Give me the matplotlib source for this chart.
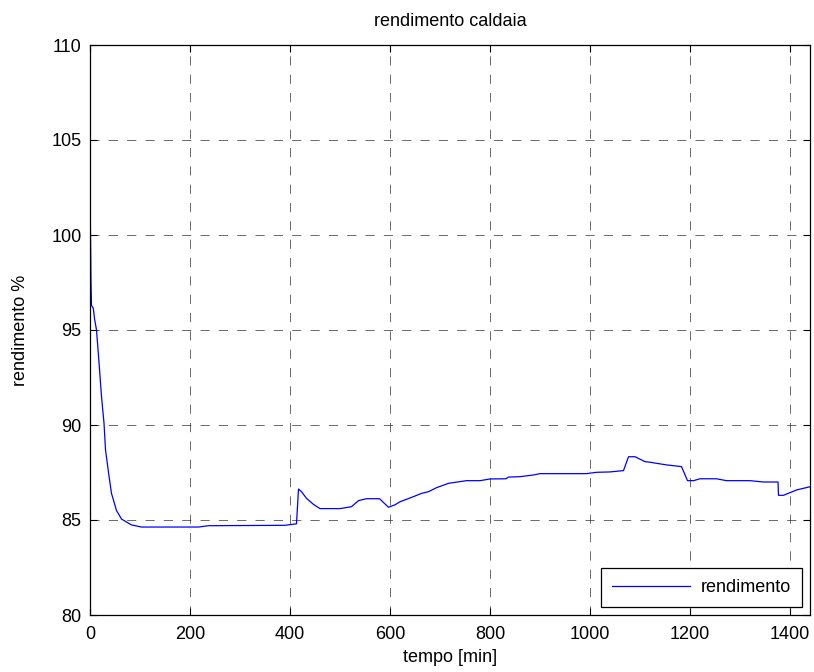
import matplotlib
matplotlib.use("Agg")
import matplotlib.pyplot as plt

t = [0, 0.3, 1, 2, 3, 5, 6.6, 9, 13, 18, 23, 28, 31, 37, 43, 53, 63, 83, 103,
     217, 237, 390, 413, 417, 423, 433, 447, 460, 500, 523, 537, 553, 579, 597,
     610, 620, 647, 663, 677, 693, 717, 753, 780, 800, 832, 837, 860, 887, 900,
     993, 1013, 1040, 1067, 1077, 1090, 1110, 1120, 1153, 1183, 1195, 1207, 1220,
     1253, 1273, 1320, 1347, 1376, 1377, 1387, 1413, 1440]
rend = [106.7, 101.4, 100.0, 97.5, 96.3, 96.2, 96.15, 95.6, 95.0, 93.3, 91.5, 90.1, 88.7, 87.5, 86.4,
        85.5, 85.05, 84.74, 84.63, 84.63, 84.7, 84.72, 84.8, 86.63, 86.49, 86.14,
        85.82, 85.6, 85.6, 85.7, 86.02, 86.12, 86.12, 85.67, 85.8, 85.96, 86.23,
        86.4, 86.49, 86.7, 86.93, 87.07, 87.07, 87.16, 87.17, 87.26, 87.28, 87.37,
        87.44, 87.44, 87.51, 87.53, 87.6, 88.33, 88.33, 88.07, 88.04, 87.9, 87.81,
        87.07, 87.07, 87.17, 87.17, 87.07, 87.07, 87.0, 87.0, 86.3, 86.3, 86.58, 86.75]

xticks = [0, 200, 400, 600, 800, 1000, 1200, 1400]
yticks = [80, 85, 90, 95, 100, 105, 110]

plt.rcParams['font.family'] = ['Liberation Sans', 'DejaVu Sans']
fig = plt.figure(figsize=(8.14, 6.72), dpi=100)
ax = fig.add_axes([90/814, 57/672, 720/814, 570/672])
ax.plot(t, rend, color=(0, 0, 1), linewidth=0.9, label='rendimento')
ax.set_xlim(0, 1440)
ax.set_ylim(80, 110)
ax.set_xticks(xticks)
ax.set_yticks(yticks)
ax.tick_params(axis='both', direction='in', top=True, right=True, labelsize=13, length=5, width=0.8)
ax.tick_params(axis='x', pad=8)
ax.tick_params(axis='y', pad=6)
ax.grid(True, color='#333333', linestyle=(0, (11, 11)), linewidth=0.6, alpha=0.85)
for s in ax.spines.values():
    s.set_linewidth(0.9)
ax.set_xlabel('tempo [min]', fontsize=13, labelpad=4)
ax.set_ylabel('rendimento %', fontsize=13, labelpad=16)
ax.set_title('rendimento caldaia', fontsize=13, pad=14)
leg = ax.legend(loc='lower right', fontsize=13, frameon=True, fancybox=False,
                edgecolor='black', framealpha=1, handlelength=4.3, borderaxespad=0.45,
                borderpad=0.6, handletextpad=0.6)
leg.get_frame().set_linewidth(0.9)
fig.savefig('out.png', dpi=100)
